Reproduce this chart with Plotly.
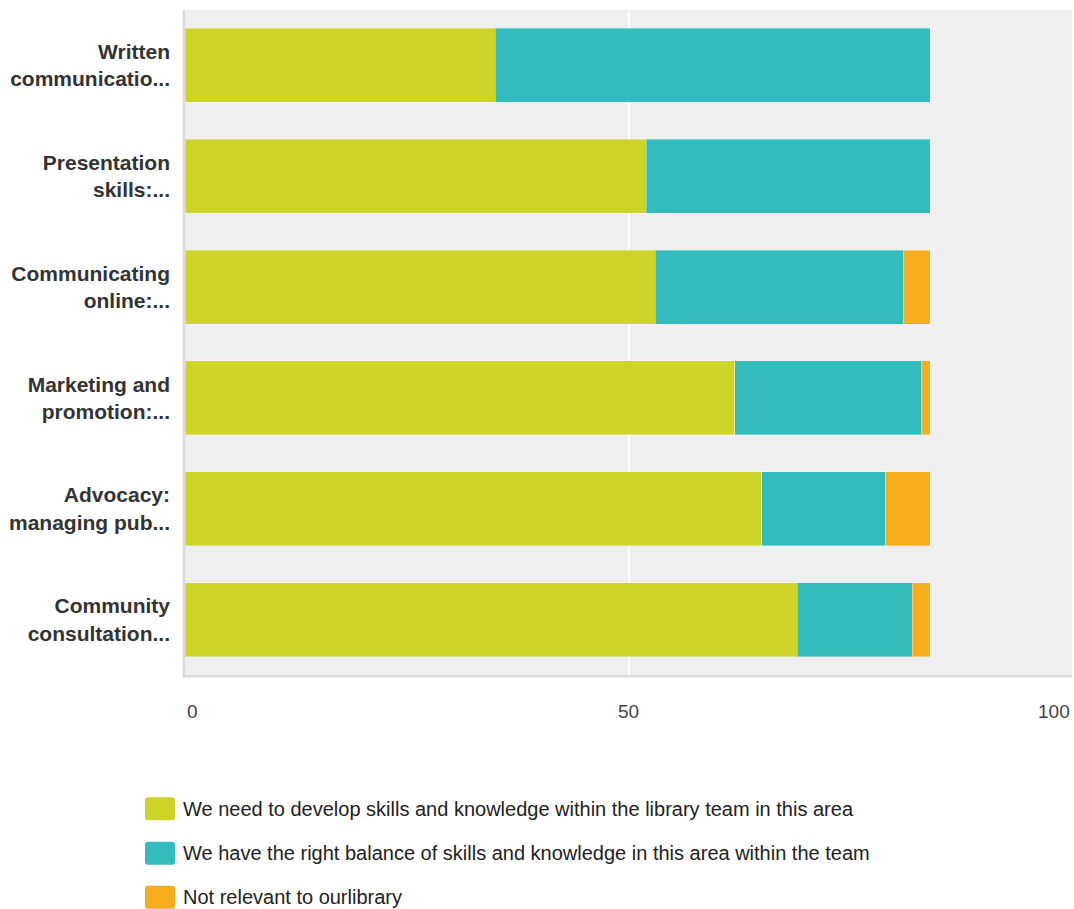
import plotly.graph_objects as go

# Survey: communication skills within the library team
categories = [
    "Written<br>communicatio...",
    "Presentation<br>skills:...",
    "Communicating<br>online:...",
    "Marketing and<br>promotion:...",
    "Advocacy:<br>managing pub...",
    "Community<br>consultation...",
]
need_to_develop = [35, 52, 53, 62, 65, 69]
right_balance = [49, 32, 28, 21, 14, 13]
not_relevant = [0, 0, 3, 1, 5, 2]

series_names = [
    "We need to develop skills and knowledge within the library team in this area",
    "We have the right balance of skills and knowledge in this area within the team",
    "Not relevant to ourlibrary",
]
series_values = [need_to_develop, right_balance, not_relevant]
series_colors = ["#cdd427", "#33bcbe", "#f6ae1f"]

x_ticks = [0, 50, 100]

fig = go.Figure()
for name, vals, col in zip(series_names, series_values, series_colors):
    fig.add_trace(go.Bar(
        y=categories, x=vals, name=name, orientation="h",
        marker=dict(color=col, line=dict(color="rgba(255,255,255,0.35)", width=1)),
        showlegend=False,
    ))

W, H = 1074, 909
ml, mr, mt, mb = 185, 2, 9.5, 233.5
plot_w = W - ml - mr
plot_h = H - mt - mb


def px_x(p):
    return (p - ml) / plot_w


def px_y(p):
    return (mt + plot_h - p) / plot_h


fig.update_layout(
    width=W, height=H,
    margin=dict(l=ml, r=mr, t=mt, b=mb, pad=0),
    barmode="stack", bargap=0.333,
    plot_bgcolor="#efefef", paper_bgcolor="#ffffff",
    font=dict(family="Liberation Sans, Arial, sans-serif", color="#333333"),
)
fig.update_yaxes(
    autorange="reversed", showgrid=False, zeroline=False, showline=False,
    tickfont=dict(family="Liberation Sans, Arial, sans-serif", size=21, color="#333333",
                  weight="bold"),
    ticklabelstandoff=14,
)
fig.update_xaxes(
    range=[0, 100], tickvals=[50], showticklabels=False,
    showgrid=True, gridcolor="#ffffff", gridwidth=1.5,
    zeroline=False, showline=False,
)

# Axis tick labels: first left-aligned, middle centred, last right-aligned
anchors = ["left", "center", "right"]
for v, anc in zip(x_ticks, anchors):
    fig.add_annotation(
        x=v, xref="x", y=px_y(712), yref="paper", text=str(v), showarrow=False,
        xanchor=anc, yanchor="middle",
        font=dict(family="Liberation Sans, Arial, sans-serif", size=19, color="#444444"),
    )

# Soft frame on the left and bottom of the plotting area
fig.add_shape(type="line", xref="paper", yref="paper", x0=-1.2 / plot_w, x1=-1.2 / plot_w,
              y0=-2 / plot_h, y1=1, line=dict(color="#dadada", width=2.5))
fig.add_shape(type="line", xref="paper", yref="paper", x0=-2 / plot_w, x1=1,
              y0=-1.2 / plot_h, y1=-1.2 / plot_h, line=dict(color="#dadada", width=2.5))


def rounded_rect(x0, y0, x1, y1, r):
    # path in pixel space converted to paper coordinates
    pts = [
        f"M {px_x(x0 + r)} {px_y(y0)}",
        f"L {px_x(x1 - r)} {px_y(y0)}",
        f"Q {px_x(x1)} {px_y(y0)} {px_x(x1)} {px_y(y0 + r)}",
        f"L {px_x(x1)} {px_y(y1 - r)}",
        f"Q {px_x(x1)} {px_y(y1)} {px_x(x1 - r)} {px_y(y1)}",
        f"L {px_x(x0 + r)} {px_y(y1)}",
        f"Q {px_x(x0)} {px_y(y1)} {px_x(x0)} {px_y(y1 - r)}",
        f"L {px_x(x0)} {px_y(y0 + r)}",
        f"Q {px_x(x0)} {px_y(y0)} {px_x(x0 + r)} {px_y(y0)}",
        "Z",
    ]
    return " ".join(pts)


# Legend built from swatches and labels
legend_rows = [809.5, 854, 898]
for name, col, yc in zip(series_names, series_colors, legend_rows):
    fig.add_shape(type="path", xref="paper", yref="paper",
                  path=rounded_rect(145, yc - 11.5, 175, yc + 11.5, 3),
                  fillcolor=col, line=dict(color=col, width=0), layer="above")
    fig.add_annotation(
        x=px_x(181), y=px_y(yc), xref="paper", yref="paper", text=name,
        showarrow=False, xanchor="left", yanchor="middle",
        font=dict(family="Liberation Sans, Arial, sans-serif", size=20, color="#222222"),
    )

fig.write_html("out.html")
